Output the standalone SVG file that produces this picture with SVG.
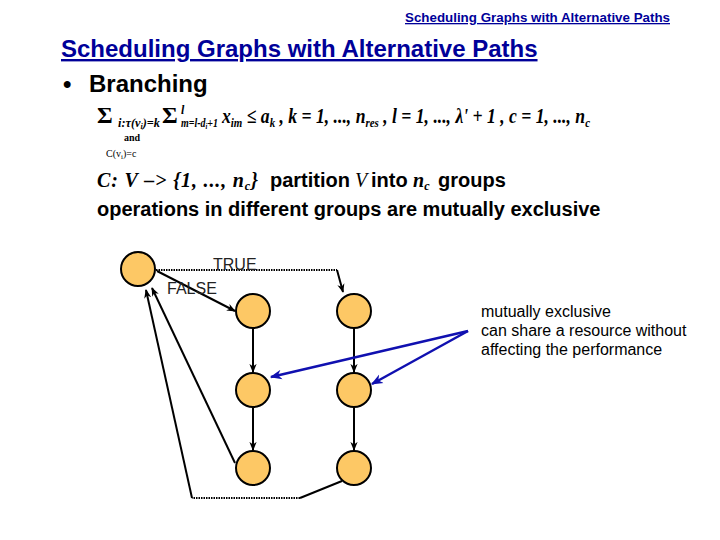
<svg xmlns="http://www.w3.org/2000/svg" width="720" height="540" viewBox="0 0 720 540">
<defs>
<marker id="ah" viewBox="0 0 10 10" refX="9" refY="5" markerWidth="9" markerHeight="9" markerUnits="userSpaceOnUse" orient="auto"><path d="M0,1 L10,5 L0,9 L3,5 z" fill="#000"/></marker>
<marker id="ahb" viewBox="0 0 10 10" refX="9" refY="5" markerWidth="12" markerHeight="12" markerUnits="userSpaceOnUse" orient="auto"><path d="M0,1 L10,5 L0,9 L3,5 z" fill="#1010b0"/></marker>
</defs>
<style>
.node{fill:#fdc865;stroke:#000;stroke-width:2}
.e{fill:none;stroke:#000;stroke-width:2}
.d{fill:none;stroke:#000;stroke-width:2;stroke-dasharray:1.5 1}
.b{fill:none;stroke:#1010b0;stroke-width:2.5}
.sans{font-family:"Liberation Sans",Arial,sans-serif}
.ser{font-family:"Liberation Serif","Times New Roman",serif}
.lbl{font-family:"Liberation Sans",Arial,sans-serif;font-size:16px;fill:#222}
</style>
<rect width="720" height="540" fill="#fff"/>
<text x="405" y="22" class="sans" font-size="13" font-weight="bold" fill="#000099" text-decoration="underline" textLength="265" lengthAdjust="spacingAndGlyphs">Scheduling Graphs with Alternative Paths</text>
<text x="61" y="57" class="sans" font-size="24" font-weight="bold" fill="#000099" text-decoration="underline">Scheduling Graphs with Alternative Paths</text>
<text x="63" y="92" class="sans" font-size="24" font-weight="bold" fill="#000">•</text>
<text x="89" y="92" class="sans" font-size="24" font-weight="bold" fill="#000">Branching</text>
<g class="ser" font-weight="bold" fill="#000">
<text x="97" y="123" font-size="24">Σ</text>
<text x="118" y="127" font-size="12" font-style="italic" textLength="42" lengthAdjust="spacingAndGlyphs">i:τ(v<tspan font-size="8" dy="2">i</tspan><tspan dy="-2">)=k</tspan></text>
<text x="162" y="123" font-size="24">Σ</text>
<text x="181" y="114" font-size="12" font-style="italic">l</text>
<text x="181" y="127" font-size="12" font-style="italic" textLength="37" lengthAdjust="spacingAndGlyphs">m=l-d<tspan font-size="8" dy="2">i</tspan><tspan dy="-2">+1</tspan></text>
<text x="222" y="123" font-size="21" font-style="italic" textLength="368" lengthAdjust="spacingAndGlyphs">x<tspan font-size="13" dy="4">im</tspan><tspan dy="-4"> ≤ a</tspan><tspan font-size="13" dy="4">k</tspan><tspan dy="-4"> , k = 1, ..., n</tspan><tspan font-size="13" dy="4">res</tspan><tspan dy="-4"> , l = 1, ..., λ' + 1 , c = 1, ..., n</tspan><tspan font-size="13" dy="4">c</tspan></text>
<text x="124" y="141" font-size="10">and</text>
<text x="106" y="157" font-size="10" font-weight="normal">C(v<tspan font-size="7" dy="2">i</tspan><tspan dy="-2">)=c</tspan></text>
</g>
<text x="97" y="187" class="ser" font-size="20" font-weight="bold" font-style="italic" textLength="161" lengthAdjust="spacing">C: V  –&gt; {1, ..., n<tspan font-size="12" dy="3">c</tspan><tspan dy="-3">}</tspan></text>
<text x="270" y="187" class="sans" font-size="20" font-weight="bold">partition</text>
<text x="355" y="187" class="ser" font-size="20" font-style="italic">V</text>
<text x="371" y="187" class="sans" font-size="20" font-weight="bold">into</text>
<text x="413" y="187" class="ser" font-size="20" font-weight="bold" font-style="italic">n<tspan font-size="12" dy="3">c</tspan></text>
<text x="438" y="187" class="sans" font-size="20" font-weight="bold">groups</text>
<text x="97" y="216" class="sans" font-size="20" font-weight="bold">operations in different groups are mutually exclusive</text>
<g id="connectors">
<path class="d" d="M156,270 L337,270"/>
<path class="e" d="M337,270 L343,292" marker-end="url(#ah)"/>
<path class="e" d="M157,271 L235,311" marker-end="url(#ah)"/>
<path class="e" d="M253,328 L253,372" marker-end="url(#ah)"/>
<path class="e" d="M253,407 L253,450" marker-end="url(#ah)"/>
<path class="e" d="M354,328 L354,372" marker-end="url(#ah)"/>
<path class="e" d="M354,407 L354,450" marker-end="url(#ah)"/>
<path class="e" d="M235,463 L152,288" stroke-width="1.5" marker-end="url(#ah)"/>
<path class="e" d="M342,481 L300,498"/>
<path class="d" d="M300,498 L192,498"/>
<path class="e" d="M192,498 L146,290" stroke-width="1.5" marker-end="url(#ah)"/>
<path class="b" d="M468,331 L271,377" marker-end="url(#ahb)"/>
<path class="b" d="M468,331 L372,384" marker-end="url(#ahb)"/>
</g>
<text x="213" y="270" class="lbl">TRUE</text>
<text x="167" y="294" class="lbl">FALSE</text>
<g id="n1"><circle class="node" cx="138" cy="269" r="17"/></g>
<g id="n2"><circle class="node" cx="253" cy="311" r="17"/></g>
<g id="n3"><circle class="node" cx="354" cy="311" r="17"/></g>
<g id="n4"><circle class="node" cx="253" cy="390" r="17"/></g>
<g id="n5"><circle class="node" cx="354" cy="390" r="17"/></g>
<g id="n6"><circle class="node" cx="253" cy="468" r="17"/></g>
<g id="n7"><circle class="node" cx="354" cy="468" r="17"/></g>
<g class="sans" font-size="16" fill="#000">
<text x="481" y="317">mutually exclusive</text>
<text x="481" y="336">can share a resource without</text>
<text x="481" y="355">affecting the performance</text>
</g>
</svg>
